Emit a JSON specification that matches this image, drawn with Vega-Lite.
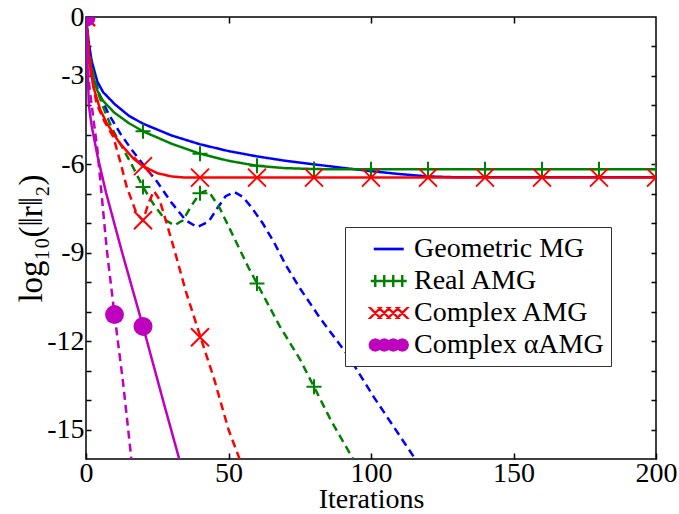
{
  "$schema": "https://vega.github.io/schema/vega-lite/v6.json",
  "width": 570,
  "height": 442,
  "autosize": {"type": "none"},
  "padding": {"left": 86, "top": 17, "right": 23, "bottom": 55},
  "config": {
    "view": {"stroke": "black", "strokeWidth": 1.5},
    "font": "Liberation Serif",
    "legend": {"labelFont": "Liberation Serif", "titleFont": "Liberation Serif"},
    "axis": {
      "labelFont": "Liberation Serif", "labelFontSize": 28, "labelColor": "black",
      "titleFont": "Liberation Serif", "titleFontSize": 30, "titleFontWeight": "normal", "titleColor": "black",
      "tickColor": "black", "tickWidth": 1.5, "domain": false, "grid": false,
      "labelOverlap": false, "labelFlush": false
    }
  },
  "resolve": {"axis": {"x": "independent", "y": "independent"}},
  "datasets": {
    "lines": [
      {"method": "Geometric MG", "style": "solid", "iter": 0, "res": -1},
      {"method": "Geometric MG", "style": "solid", "iter": 1, "res": -1.9},
      {"method": "Geometric MG", "style": "solid", "iter": 2, "res": -2.5},
      {"method": "Geometric MG", "style": "solid", "iter": 4, "res": -3.2},
      {"method": "Geometric MG", "style": "solid", "iter": 6, "res": -3.55},
      {"method": "Geometric MG", "style": "solid", "iter": 10, "res": -3.95},
      {"method": "Geometric MG", "style": "solid", "iter": 15, "res": -4.35},
      {"method": "Geometric MG", "style": "solid", "iter": 20, "res": -4.62},
      {"method": "Geometric MG", "style": "solid", "iter": 30, "res": -5.02},
      {"method": "Geometric MG", "style": "solid", "iter": 40, "res": -5.32},
      {"method": "Geometric MG", "style": "solid", "iter": 50, "res": -5.55},
      {"method": "Geometric MG", "style": "solid", "iter": 60, "res": -5.73},
      {"method": "Geometric MG", "style": "solid", "iter": 70, "res": -5.88},
      {"method": "Geometric MG", "style": "solid", "iter": 80, "res": -6.0},
      {"method": "Geometric MG", "style": "solid", "iter": 90, "res": -6.12},
      {"method": "Geometric MG", "style": "solid", "iter": 100, "res": -6.23},
      {"method": "Geometric MG", "style": "solid", "iter": 110, "res": -6.33},
      {"method": "Geometric MG", "style": "solid", "iter": 120, "res": -6.41},
      {"method": "Geometric MG", "style": "solid", "iter": 130, "res": -6.44},
      {"method": "Geometric MG", "style": "solid", "iter": 200, "res": -6.44},
      {"method": "Geometric MG", "style": "dashed", "iter": 0, "res": -1},
      {"method": "Geometric MG", "style": "dashed", "iter": 1, "res": -2.0},
      {"method": "Geometric MG", "style": "dashed", "iter": 2, "res": -2.6},
      {"method": "Geometric MG", "style": "dashed", "iter": 3, "res": -3.1},
      {"method": "Geometric MG", "style": "dashed", "iter": 5, "res": -3.7},
      {"method": "Geometric MG", "style": "dashed", "iter": 8, "res": -4.3},
      {"method": "Geometric MG", "style": "dashed", "iter": 12, "res": -4.95},
      {"method": "Geometric MG", "style": "dashed", "iter": 16, "res": -5.5},
      {"method": "Geometric MG", "style": "dashed", "iter": 20, "res": -6.0},
      {"method": "Geometric MG", "style": "dashed", "iter": 25, "res": -6.6},
      {"method": "Geometric MG", "style": "dashed", "iter": 30, "res": -7.3},
      {"method": "Geometric MG", "style": "dashed", "iter": 35, "res": -7.9},
      {"method": "Geometric MG", "style": "dashed", "iter": 39, "res": -8.13},
      {"method": "Geometric MG", "style": "dashed", "iter": 43, "res": -7.95},
      {"method": "Geometric MG", "style": "dashed", "iter": 46, "res": -7.5},
      {"method": "Geometric MG", "style": "dashed", "iter": 49, "res": -7.08},
      {"method": "Geometric MG", "style": "dashed", "iter": 52, "res": -6.94},
      {"method": "Geometric MG", "style": "dashed", "iter": 55, "res": -7.1},
      {"method": "Geometric MG", "style": "dashed", "iter": 58, "res": -7.45},
      {"method": "Geometric MG", "style": "dashed", "iter": 62, "res": -8.0},
      {"method": "Geometric MG", "style": "dashed", "iter": 66, "res": -8.65},
      {"method": "Geometric MG", "style": "dashed", "iter": 70, "res": -9.4},
      {"method": "Geometric MG", "style": "dashed", "iter": 75, "res": -10.2},
      {"method": "Geometric MG", "style": "dashed", "iter": 82, "res": -11.2},
      {"method": "Geometric MG", "style": "dashed", "iter": 92, "res": -12.5},
      {"method": "Geometric MG", "style": "dashed", "iter": 101, "res": -13.9},
      {"method": "Geometric MG", "style": "dashed", "iter": 110, "res": -15.2},
      {"method": "Geometric MG", "style": "dashed", "iter": 115.5, "res": -16.0},
      {"method": "Geometric MG", "style": "dashed", "iter": 118, "res": -16.5},
      {"method": "Real AMG", "style": "solid", "iter": 0, "res": -1},
      {"method": "Real AMG", "style": "solid", "iter": 1, "res": -2.3},
      {"method": "Real AMG", "style": "solid", "iter": 2, "res": -2.85},
      {"method": "Real AMG", "style": "solid", "iter": 4, "res": -3.5},
      {"method": "Real AMG", "style": "solid", "iter": 6, "res": -3.85},
      {"method": "Real AMG", "style": "solid", "iter": 10, "res": -4.25},
      {"method": "Real AMG", "style": "solid", "iter": 15, "res": -4.6},
      {"method": "Real AMG", "style": "solid", "iter": 20, "res": -4.88},
      {"method": "Real AMG", "style": "solid", "iter": 30, "res": -5.3},
      {"method": "Real AMG", "style": "solid", "iter": 40, "res": -5.64},
      {"method": "Real AMG", "style": "solid", "iter": 50, "res": -5.88},
      {"method": "Real AMG", "style": "solid", "iter": 60, "res": -6.05},
      {"method": "Real AMG", "style": "solid", "iter": 70, "res": -6.13},
      {"method": "Real AMG", "style": "solid", "iter": 80, "res": -6.16},
      {"method": "Real AMG", "style": "solid", "iter": 90, "res": -6.17},
      {"method": "Real AMG", "style": "solid", "iter": 200, "res": -6.17},
      {"method": "Real AMG", "style": "dashed", "iter": 0, "res": -1},
      {"method": "Real AMG", "style": "dashed", "iter": 1, "res": -2.1},
      {"method": "Real AMG", "style": "dashed", "iter": 2, "res": -2.7},
      {"method": "Real AMG", "style": "dashed", "iter": 4, "res": -3.5},
      {"method": "Real AMG", "style": "dashed", "iter": 6, "res": -4.05},
      {"method": "Real AMG", "style": "dashed", "iter": 9, "res": -4.75},
      {"method": "Real AMG", "style": "dashed", "iter": 12, "res": -5.3},
      {"method": "Real AMG", "style": "dashed", "iter": 16, "res": -6.0},
      {"method": "Real AMG", "style": "dashed", "iter": 20, "res": -6.77},
      {"method": "Real AMG", "style": "dashed", "iter": 24, "res": -7.4},
      {"method": "Real AMG", "style": "dashed", "iter": 28, "res": -7.9},
      {"method": "Real AMG", "style": "dashed", "iter": 31, "res": -8.07},
      {"method": "Real AMG", "style": "dashed", "iter": 34, "res": -7.9},
      {"method": "Real AMG", "style": "dashed", "iter": 37, "res": -7.4},
      {"method": "Real AMG", "style": "dashed", "iter": 40, "res": -6.98},
      {"method": "Real AMG", "style": "dashed", "iter": 42, "res": -6.9},
      {"method": "Real AMG", "style": "dashed", "iter": 44, "res": -7.05},
      {"method": "Real AMG", "style": "dashed", "iter": 47, "res": -7.5},
      {"method": "Real AMG", "style": "dashed", "iter": 52, "res": -8.5},
      {"method": "Real AMG", "style": "dashed", "iter": 57, "res": -9.5},
      {"method": "Real AMG", "style": "dashed", "iter": 60, "res": -10.04},
      {"method": "Real AMG", "style": "dashed", "iter": 68, "res": -11.5},
      {"method": "Real AMG", "style": "dashed", "iter": 75, "res": -12.6},
      {"method": "Real AMG", "style": "dashed", "iter": 80, "res": -13.55},
      {"method": "Real AMG", "style": "dashed", "iter": 86, "res": -14.7},
      {"method": "Real AMG", "style": "dashed", "iter": 93.7, "res": -16.0},
      {"method": "Real AMG", "style": "dashed", "iter": 96, "res": -16.5},
      {"method": "Complex AMG", "style": "solid", "iter": 0, "res": -1},
      {"method": "Complex AMG", "style": "solid", "iter": 1, "res": -2.4},
      {"method": "Complex AMG", "style": "solid", "iter": 2.6, "res": -3.37},
      {"method": "Complex AMG", "style": "solid", "iter": 5, "res": -4.15},
      {"method": "Complex AMG", "style": "solid", "iter": 7.3, "res": -4.6},
      {"method": "Complex AMG", "style": "solid", "iter": 10, "res": -5.02},
      {"method": "Complex AMG", "style": "solid", "iter": 12, "res": -5.3},
      {"method": "Complex AMG", "style": "solid", "iter": 16.6, "res": -5.8},
      {"method": "Complex AMG", "style": "solid", "iter": 20, "res": -6.06},
      {"method": "Complex AMG", "style": "solid", "iter": 25, "res": -6.3},
      {"method": "Complex AMG", "style": "solid", "iter": 30, "res": -6.41},
      {"method": "Complex AMG", "style": "solid", "iter": 35, "res": -6.45},
      {"method": "Complex AMG", "style": "solid", "iter": 200, "res": -6.45},
      {"method": "Complex AMG", "style": "dashed", "iter": 0, "res": -1},
      {"method": "Complex AMG", "style": "dashed", "iter": 1, "res": -2.2},
      {"method": "Complex AMG", "style": "dashed", "iter": 2, "res": -3.0},
      {"method": "Complex AMG", "style": "dashed", "iter": 3.7, "res": -3.94},
      {"method": "Complex AMG", "style": "dashed", "iter": 6.5, "res": -4.55},
      {"method": "Complex AMG", "style": "dashed", "iter": 9.6, "res": -5.07},
      {"method": "Complex AMG", "style": "dashed", "iter": 12, "res": -5.9},
      {"method": "Complex AMG", "style": "dashed", "iter": 14.3, "res": -6.77},
      {"method": "Complex AMG", "style": "dashed", "iter": 17.8, "res": -7.68},
      {"method": "Complex AMG", "style": "dashed", "iter": 20, "res": -7.9},
      {"method": "Complex AMG", "style": "dashed", "iter": 22, "res": -7.3},
      {"method": "Complex AMG", "style": "dashed", "iter": 23.8, "res": -6.9},
      {"method": "Complex AMG", "style": "dashed", "iter": 25.8, "res": -7.2},
      {"method": "Complex AMG", "style": "dashed", "iter": 28, "res": -7.9},
      {"method": "Complex AMG", "style": "dashed", "iter": 31, "res": -8.9},
      {"method": "Complex AMG", "style": "dashed", "iter": 35, "res": -10.3},
      {"method": "Complex AMG", "style": "dashed", "iter": 40.2, "res": -11.87},
      {"method": "Complex AMG", "style": "dashed", "iter": 45, "res": -13.3},
      {"method": "Complex AMG", "style": "dashed", "iter": 50, "res": -15.0},
      {"method": "Complex AMG", "style": "dashed", "iter": 53.9, "res": -16.0},
      {"method": "Complex AMG", "style": "dashed", "iter": 55, "res": -16.5},
      {"method": "Complex αAMG", "style": "solid", "iter": 0, "res": -1},
      {"method": "Complex αAMG", "style": "solid", "iter": 1, "res": -4.0},
      {"method": "Complex αAMG", "style": "solid", "iter": 2, "res": -4.7},
      {"method": "Complex αAMG", "style": "solid", "iter": 4, "res": -5.7},
      {"method": "Complex αAMG", "style": "solid", "iter": 7, "res": -6.95},
      {"method": "Complex αAMG", "style": "solid", "iter": 12.5, "res": -8.93},
      {"method": "Complex αAMG", "style": "solid", "iter": 20, "res": -11.5},
      {"method": "Complex αAMG", "style": "solid", "iter": 27, "res": -14.0},
      {"method": "Complex αAMG", "style": "solid", "iter": 33, "res": -16.1},
      {"method": "Complex αAMG", "style": "solid", "iter": 34.5, "res": -16.6},
      {"method": "Complex αAMG", "style": "dashed", "iter": 0, "res": -1},
      {"method": "Complex αAMG", "style": "dashed", "iter": 1, "res": -3.2},
      {"method": "Complex αAMG", "style": "dashed", "iter": 2, "res": -4.0},
      {"method": "Complex αAMG", "style": "dashed", "iter": 4, "res": -5.5},
      {"method": "Complex αAMG", "style": "dashed", "iter": 7.3, "res": -8.9},
      {"method": "Complex αAMG", "style": "dashed", "iter": 10, "res": -11.1},
      {"method": "Complex αAMG", "style": "dashed", "iter": 13, "res": -13.4},
      {"method": "Complex αAMG", "style": "dashed", "iter": 15.7, "res": -15.8},
      {"method": "Complex αAMG", "style": "dashed", "iter": 16.6, "res": -16.6}
    ],
    "markers": [
      {"method": "Real AMG", "style": "solid", "iter": 0, "res": -1},
      {"method": "Real AMG", "style": "solid", "iter": 20, "res": -4.88},
      {"method": "Real AMG", "style": "solid", "iter": 40, "res": -5.64},
      {"method": "Real AMG", "style": "solid", "iter": 60, "res": -6.05},
      {"method": "Real AMG", "style": "solid", "iter": 80, "res": -6.16},
      {"method": "Real AMG", "style": "solid", "iter": 100, "res": -6.17},
      {"method": "Real AMG", "style": "solid", "iter": 120, "res": -6.17},
      {"method": "Real AMG", "style": "solid", "iter": 140, "res": -6.17},
      {"method": "Real AMG", "style": "solid", "iter": 160, "res": -6.17},
      {"method": "Real AMG", "style": "solid", "iter": 180, "res": -6.17},
      {"method": "Real AMG", "style": "solid", "iter": 200, "res": -6.17},
      {"method": "Real AMG", "style": "dashed", "iter": 0, "res": -1},
      {"method": "Real AMG", "style": "dashed", "iter": 20, "res": -6.77},
      {"method": "Real AMG", "style": "dashed", "iter": 40, "res": -6.98},
      {"method": "Real AMG", "style": "dashed", "iter": 60, "res": -10.04},
      {"method": "Real AMG", "style": "dashed", "iter": 80, "res": -13.55},
      {"method": "Complex AMG", "style": "solid", "iter": 0, "res": -1},
      {"method": "Complex AMG", "style": "solid", "iter": 20, "res": -6.06},
      {"method": "Complex AMG", "style": "solid", "iter": 40, "res": -6.45},
      {"method": "Complex AMG", "style": "solid", "iter": 60, "res": -6.45},
      {"method": "Complex AMG", "style": "solid", "iter": 80, "res": -6.45},
      {"method": "Complex AMG", "style": "solid", "iter": 100, "res": -6.45},
      {"method": "Complex AMG", "style": "solid", "iter": 120, "res": -6.45},
      {"method": "Complex AMG", "style": "solid", "iter": 140, "res": -6.45},
      {"method": "Complex AMG", "style": "solid", "iter": 160, "res": -6.45},
      {"method": "Complex AMG", "style": "solid", "iter": 180, "res": -6.45},
      {"method": "Complex AMG", "style": "solid", "iter": 200, "res": -6.45},
      {"method": "Complex AMG", "style": "dashed", "iter": 0, "res": -1},
      {"method": "Complex AMG", "style": "dashed", "iter": 20, "res": -7.9},
      {"method": "Complex AMG", "style": "dashed", "iter": 40, "res": -11.87},
      {"method": "Complex αAMG", "style": "solid", "iter": 0, "res": -1},
      {"method": "Complex αAMG", "style": "solid", "iter": 20, "res": -11.5},
      {"method": "Complex αAMG", "style": "dashed", "iter": 0, "res": -1},
      {"method": "Complex αAMG", "style": "dashed", "iter": 10, "res": -11.1}
    ]
  },
  "layer": [
    {
      "data": {"name": "lines"},
      "mark": {"type": "line", "strokeWidth": 2.5, "clip": true},
      "encoding": {
        "x": {
          "field": "iter", "type": "quantitative",
          "scale": {"domain": [0, 200], "nice": false, "zero": false},
          "axis": {"orient": "bottom", "title": "Iterations", "values": [0, 50, 100, 150, 200], "tickSize": -6, "labelPadding": 6, "labelOverlap": false,
                   "titleFontSize": 28, "titleY": 48, "titleBaseline": "alphabetic"}
        },
        "y": {
          "field": "res", "type": "quantitative",
          "scale": {"domain": [-16, -1], "nice": false, "zero": false},
          "axis": {
            "orient": "left",
            "title": "log₁₀(‖r‖₂)",
            "values": [-1, -2, -3, -4, -5, -6, -7, -8, -9, -10, -11, -12, -13, -14, -15],
            "labelExpr": "datum.value == -1 ? '0' : (datum.value % 3 == 0 ? '' + datum.value : '')",
            "tickSize": -5, "labelOverlap": false, "titleFontSize": 33,
            "labelPadding": 7, "titleX": -55, "titleY": 221, "titleAngle": -90, "titleAlign": "center", "titleBaseline": "middle"
          }
        },
        "color": {
          "field": "method", "type": "nominal",
          "scale": {"domain": ["Geometric MG", "Real AMG", "Complex AMG", "Complex αAMG"], "range": ["#0000ff", "#008000", "#ff0000", "#bf00bf"]},
          "legend": {
            "title": null, "orient": "none", "legendX": 259, "legendY": 210,
            "padding": 7, "strokeColor": "#333333", "fillColor": "white",
            "labelFont": "Liberation Serif", "labelFontSize": 28, "labelColor": "black", "labelLimit": 400,
            "labelOffset": 32, "symbolSize": 900, "rowPadding": 3,
            "labelExpr": "datum.label + '\u2003\u2009'",
            "encode": {
              "labels": {"update": {"font": {"value": "Liberation Serif"}}},
              "symbols": {
                "update": {
                  "shape": {"signal": "datum.value === 'Geometric MG' ? 'M0.45,-0.09H2.45V0.09H0.45Z' : datum.value === 'Real AMG' ? 'M0.25,-0.08H2.65V0.08H0.25Z M0.47,-0.4H0.63V0.4H0.47Z M1.07,-0.4H1.23V0.4H1.07Z M1.67,-0.4H1.83V0.4H1.67Z M2.27,-0.4H2.43V0.4H2.27Z' : datum.value === 'Complex AMG' ? 'M0.04,-0.4H0.26L1.06,0.4H0.84Z M0.84,-0.4H1.06L0.26,0.4H0.04Z M0.64,-0.4H0.86L1.66,0.4H1.44Z M1.44,-0.4H1.66L0.86,0.4H0.64Z M1.24,-0.4H1.46L2.26,0.4H2.04Z M2.04,-0.4H2.26L1.46,0.4H1.24Z M1.84,-0.4H2.06L2.86,0.4H2.64Z M2.64,-0.4H2.86L2.06,0.4H1.84Z' : 'M1,0L0.94,0.225L0.775,0.39L0.55,0.45L0.325,0.39L0.16,0.225L0.1,0L0.16,-0.225L0.325,-0.39L0.55,-0.45L0.775,-0.39L0.94,-0.225Z M1.6,0L1.54,0.225L1.375,0.39L1.15,0.45L0.925,0.39L0.76,0.225L0.7,0L0.76,-0.225L0.925,-0.39L1.15,-0.45L1.375,-0.39L1.54,-0.225Z M2.2,0L2.14,0.225L1.975,0.39L1.75,0.45L1.525,0.39L1.36,0.225L1.3,0L1.36,-0.225L1.525,-0.39L1.75,-0.45L1.975,-0.39L2.14,-0.225Z M2.8,0L2.74,0.225L2.575,0.39L2.35,0.45L2.125,0.39L1.96,0.225L1.9,0L1.96,-0.225L2.125,-0.39L2.35,-0.45L2.575,-0.39L2.74,-0.225Z'"},
                  "fill": {"scale": "color", "field": "value"},
                  "stroke": {"value": "transparent"},
                  "strokeWidth": {"value": 0},
                  "strokeDash": {"value": [1, 0]},
                  "opacity": {"value": 1},
                  "size": {"value": 900}
                }
              }
            }
          }
        },
        "strokeDash": {
          "field": "style", "type": "nominal", "legend": null,
          "scale": {"domain": ["solid", "dashed"], "range": [[1, 0], [8, 5]]}
        }
      }
    },
    {
      "data": {"name": "markers"},
      "transform": [{"filter": "datum.method == 'Real AMG'"}],
      "mark": {"type": "point", "shape": "M-1,0H1M0,-1V1", "size": 225, "filled": false, "strokeWidth": 2, "opacity": 1, "clip": true},
      "encoding": {
        "x": {"field": "iter", "type": "quantitative",
              "axis": {"orient": "top", "labels": false, "title": null, "values": [50, 100, 150], "tickSize": -6}},
        "y": {"field": "res", "type": "quantitative",
              "axis": {"orient": "right", "labels": false, "title": null, "values": [-2, -3, -4, -5, -6, -7, -8, -9, -10, -11, -12, -13, -14, -15], "tickSize": -5}},
        "color": {"field": "method", "type": "nominal", "legend": null}
      }
    },
    {
      "data": {"name": "markers"},
      "transform": [{"filter": "datum.method == 'Complex AMG'"}],
      "mark": {"type": "point", "shape": "M-1,-1L1,1M-1,1L1,-1", "size": 324, "filled": false, "strokeWidth": 2, "opacity": 1, "clip": true},
      "encoding": {
        "x": {"field": "iter", "type": "quantitative", "axis": null},
        "y": {"field": "res", "type": "quantitative", "axis": null},
        "color": {"field": "method", "type": "nominal", "legend": null}
      }
    },
    {
      "data": {"name": "markers"},
      "transform": [{"filter": "datum.method == 'Complex αAMG'"}],
      "mark": {"type": "point", "shape": "circle", "size": 361, "filled": true, "opacity": 1, "clip": true},
      "encoding": {
        "x": {"field": "iter", "type": "quantitative", "axis": null},
        "y": {"field": "res", "type": "quantitative", "axis": null},
        "color": {"field": "method", "type": "nominal", "legend": null}
      }
    }
  ]
}
